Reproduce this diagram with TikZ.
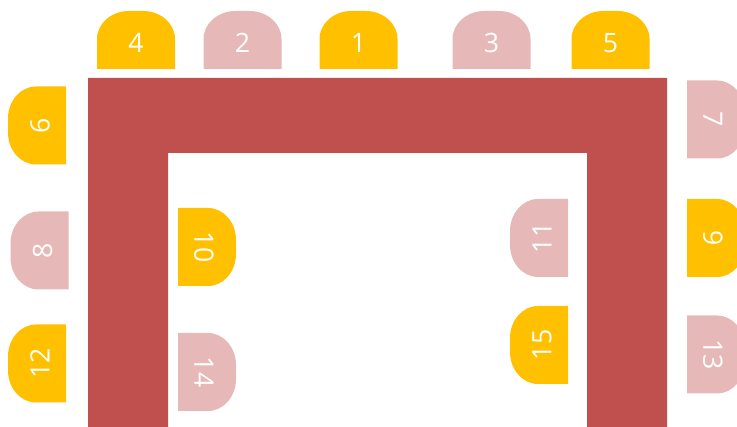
\documentclass[tikz,border=0pt]{standalone}
\usepackage{fontspec}
\setsansfont{Open Sans}
\definecolor{tablered}{HTML}{C0504D}
\definecolor{seatgold}{HTML}{FFC000}
\definecolor{seatpink}{HTML}{E6B9B8}
\tikzset{
  pics/chair/.style args={#1/#2}{code={
    \fill[#1] (-39,0)--(-39,30) arc[start angle=180,end angle=90,x radius=32,y radius=28]--(7,58) arc[start angle=90,end angle=0,x radius=32,y radius=28]--(39,0)--cycle;
    \node[text=white,font=\sffamily\fontsize{20}{24}\selectfont,transform shape] (n#2) at (0,26) {#2};
  }}
}
\begin{document}
\begin{tikzpicture}[x=0.75pt,y=0.75pt]
        \useasboundingbox (0,0) rectangle (737,427);
        % table
        \fill[tablered] (88,0)--(88,349)--(667,349)--(667,0)--(587,0)--(587,274)--(168,274)--(168,0)--cycle;
        % top row
        \foreach \x/\n/\c in {136/4/seatgold,242.5/2/seatpink,358.5/1/seatgold,491.5/3/seatpink,610.5/5/seatgold}
            \pic at (\x,358) {chair={\c/\n}};
        % chairs facing right / facing left
        \foreach \x/\y/\n/\c in {66/301.5/6/seatgold,68.5/176.5/8/seatpink,66/63.5/12/seatgold,568/189/11/seatpink,568/82/15/seatgold}
            \pic[rotate=90] at (\x,\y) {chair={\c/\n}};
        \foreach \x/\y/\n/\c in {687/307.5/7/seatpink,687/189/9/seatgold,687/72.5/13/seatpink,178/180/10/seatgold,178/55/14/seatpink}
            \pic[rotate=-90] at (\x,\y) {chair={\c/\n}};
    \end{tikzpicture}
\end{document}
